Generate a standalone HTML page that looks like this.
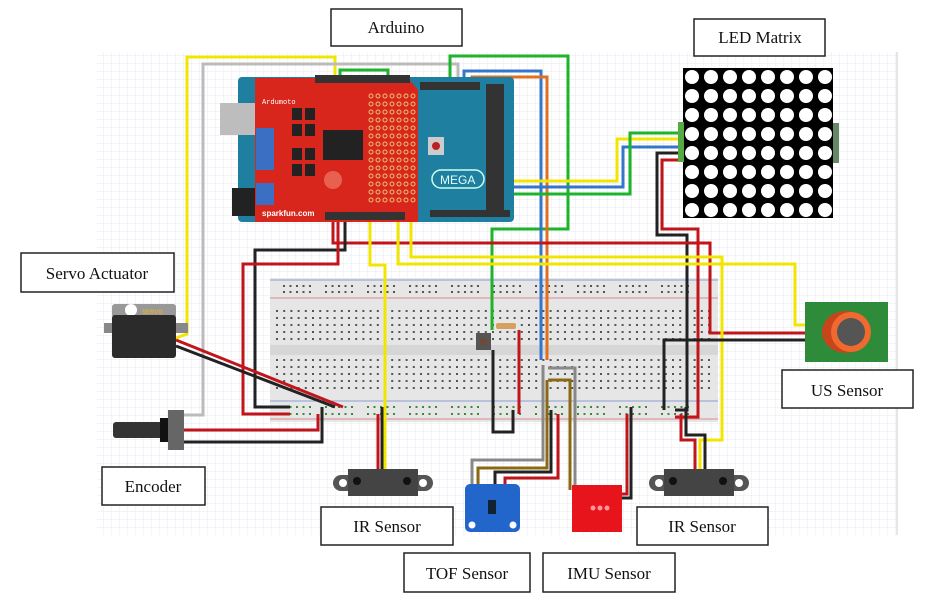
<!DOCTYPE html>
<html><head><meta charset="utf-8"><style>
html,body{margin:0;padding:0;background:#fff;}
svg{display:block;}
.lbl{font-family:"Liberation Serif",serif;font-size:17px;fill:#111;}
</style></head><body>
<svg id="s" width="926" height="602" viewBox="0 0 926 602" xmlns="http://www.w3.org/2000/svg">
<defs>
<pattern id="g" width="8" height="8" patternUnits="userSpaceOnUse"><path d="M8 0V8H0" fill="none" stroke="#dfe3ea" stroke-width="0.7"/></pattern>
</defs>
<rect x="97" y="52" width="800" height="483" fill="url(#g)"/>
<line x1="897" y1="52" x2="897" y2="535" stroke="#ccc"/>

<g>
<rect x="270" y="278" width="448" height="144" fill="#e6e6e6"/>
<rect x="270" y="345" width="448" height="10" fill="#d6d6d6"/>
<line x1="270" y1="280" x2="718" y2="280" stroke="#8a9ed8"/>
<line x1="270" y1="298" x2="718" y2="298" stroke="#d98a8a"/>
<line x1="270" y1="401" x2="718" y2="401" stroke="#8a9ed8"/>
<line x1="270" y1="419" x2="718" y2="419" stroke="#d98a8a"/>
<g id="bbdots"></g>
</g>

<g id="wires" fill="none" stroke-width="3" stroke-linejoin="miter"></g>

<g>
<rect x="238" y="77" width="276" height="145" rx="4" fill="#1f7fa0"/>
<rect x="220" y="103" width="36" height="32" fill="#bdbdbd"/>
<rect x="232" y="188" width="26" height="28" fill="#222"/>
<rect x="486" y="84" width="18" height="130" fill="#333"/>
<rect x="420" y="82" width="60" height="8" fill="#333"/>
<rect x="430" y="210" width="80" height="7" fill="#333"/>
<rect x="428" y="137" width="16" height="18" fill="#ccc"/><circle cx="436" cy="146" r="4" fill="#b22"/>
<rect x="432" y="170" width="52" height="18" rx="9" fill="none" stroke="#cfe" stroke-width="1.5"/>
<text x="440" y="184" font-family="Liberation Sans,sans-serif" font-size="12" fill="#dff">MEGA</text>
<path d="M255 78H408L418 90V222H255Z" fill="#d9261c"/>
<rect x="323" y="130" width="40" height="30" fill="#222"/>
<rect x="292" y="108" width="10" height="12" fill="#222"/><rect x="305" y="108" width="10" height="12" fill="#222"/>
<rect x="292" y="124" width="10" height="12" fill="#222"/><rect x="305" y="124" width="10" height="12" fill="#222"/>
<rect x="292" y="148" width="10" height="12" fill="#222"/><rect x="305" y="148" width="10" height="12" fill="#222"/>
<rect x="292" y="164" width="10" height="12" fill="#222"/><rect x="305" y="164" width="10" height="12" fill="#222"/>
<rect x="256" y="128" width="18" height="42" fill="#3a6fc4"/>
<rect x="256" y="183" width="18" height="22" fill="#3a6fc4"/>
<circle cx="333" cy="180" r="9" fill="#e86050"/>
<rect x="315" y="75" width="95" height="8" fill="#333"/>
<rect x="325" y="212" width="80" height="8" fill="#333"/>
<text x="262" y="216" font-family="Liberation Sans,sans-serif" font-size="8" font-weight="bold" fill="#fff">sparkfun.com</text>
<text x="262" y="104" font-family="Liberation Mono,monospace" font-size="7" fill="#fff">Ardumoto</text>
<g id="proto"></g>
</g>

<g>
<rect x="683" y="68" width="150" height="150" fill="#000"/>
<rect x="678" y="122" width="6" height="40" fill="#5a4" />
<rect x="833" y="123" width="6" height="40" fill="#686"/>
<g id="leds"></g>
</g>

<g>
<rect x="805" y="302" width="83" height="60" fill="#2e8b3a"/>
<ellipse cx="846" cy="332" rx="24" ry="21" fill="#c8451c"/>
<circle cx="851" cy="332" r="20" fill="#f06a30"/><circle cx="851" cy="332" r="14" fill="#555"/>
</g>

<g>
<rect x="104" y="323" width="84" height="10" fill="#888"/>
<rect x="112" y="304" width="64" height="14" rx="3" fill="#999"/>
<circle cx="131" cy="310" r="6" fill="#fff"/>
<text x="142" y="314" font-family="Liberation Sans,sans-serif" font-size="6" font-weight="bold" fill="#d9b040">SERVO</text>
<rect x="112" y="315" width="64" height="43" rx="3" fill="#2b2b2b"/>
</g>

<g>
<rect x="113" y="422" width="50" height="16" rx="3" fill="#333"/>
<rect x="160" y="418" width="8" height="24" fill="#111"/>
<rect x="168" y="410" width="16" height="40" fill="#666"/>
</g>

<g>
<rect x="333" y="475" width="100" height="16" rx="8" fill="#555"/>
<rect x="348" y="469" width="70" height="27" fill="#444"/>
<circle cx="343" cy="483" r="4" fill="#fff"/><circle cx="423" cy="483" r="4" fill="#fff"/>
<circle cx="357" cy="481" r="4" fill="#111"/><circle cx="407" cy="481" r="4" fill="#111"/>
</g>
<g>
<rect x="649" y="475" width="100" height="16" rx="8" fill="#555"/>
<rect x="664" y="469" width="70" height="27" fill="#444"/>
<circle cx="659" cy="483" r="4" fill="#fff"/><circle cx="739" cy="483" r="4" fill="#fff"/>
<circle cx="673" cy="481" r="4" fill="#111"/><circle cx="723" cy="481" r="4" fill="#111"/>
</g>

<g>
<rect x="465" y="484" width="55" height="48" rx="5" fill="#2266cc"/>
<rect x="488" y="500" width="8" height="14" fill="#123"/>
<circle cx="472" cy="525" r="3.5" fill="#fff"/><circle cx="513" cy="525" r="3.5" fill="#fff"/>
</g>
<g>
<rect x="572" y="485" width="50" height="47" fill="#e8141c"/>
<circle cx="593" cy="508" r="2.5" fill="#f99"/><circle cx="600" cy="508" r="2.5" fill="#f99"/><circle cx="607" cy="508" r="2.5" fill="#f99"/>
</g>

<rect x="476" y="333" width="15" height="17" fill="#555"/>
<circle cx="483.5" cy="341.5" r="4" fill="#6b4a3a"/>
<rect x="496" y="323" width="20" height="6" rx="2" fill="#d8a060"/>

<g stroke="#222" stroke-width="1.5" fill="#fff">
<rect x="331" y="9" width="131" height="37"/>
<rect x="694" y="19" width="131" height="37"/>
<rect x="21" y="253" width="153" height="39"/>
<rect x="782" y="370" width="131" height="38"/>
<rect x="102" y="467" width="103" height="38"/>
<rect x="321" y="507" width="132" height="38"/>
<rect x="637" y="507" width="131" height="38"/>
<rect x="404" y="553" width="126" height="39"/>
<rect x="543" y="553" width="132" height="39"/>
</g>
<g class="lbl" text-anchor="middle">
<text x="396" y="33">Arduino</text>
<text x="760" y="43">LED Matrix</text>
<text x="97" y="279">Servo Actuator</text>
<text x="847" y="396">US Sensor</text>
<text x="153" y="492">Encoder</text>
<text x="387" y="532">IR Sensor</text>
<text x="702" y="532">IR Sensor</text>
<text x="467" y="579">TOF Sensor</text>
<text x="609" y="579">IMU Sensor</text>
</g>
</svg>
<script>
const NS='http://www.w3.org/2000/svg';
function mk(p,t,a){const e=document.createElementNS(NS,t);for(const k in a)e.setAttribute(k,a[k]);p.appendChild(e);return e;}
const bb=document.getElementById('bbdots');
const rows=[311,318,325,332,339,360,367,374,381,388];
for(let x=277;x<712;x+=7.2){for(const y of rows){mk(bb,'rect',{x:x-1,y:y-1,width:2,height:2,fill:'#555'});}}
for(let g=0;g<10;g++){for(let i=0;i<5;i++){const x=284+g*42+i*6.5;for(const y of [286,292]){mk(bb,'rect',{x:x-1,y:y-1,width:2,height:2,fill:'#555'});}for(const y of [407,414]){mk(bb,'rect',{x:x-1,y:y-1,width:2,height:2,fill:'#3a8a3a'});}}}
const ld=document.getElementById('leds');
for(let r=0;r<8;r++){for(let c=0;c<8;c++){mk(ld,'circle',{cx:692+c*19,cy:77+r*19,r:7,fill:'#fff'});}}
const pr=document.getElementById('proto');
for(let r=0;r<14;r++){for(let c=0;c<7;c++){mk(pr,'circle',{cx:371+c*7,cy:96+r*8,r:2,fill:'none',stroke:'#e8c070','stroke-width':1});}}
const W=[
['#f2e600','176,338 187,334 187,57 335,57 335,80'],
['#bbb','184,415 203,415 203,64 458,64 458,80'],
['#1db32b','340,80 340,70 388,70 388,80'],
['#1db32b','450,80 450,56 568,56 568,229 492,229 492,330'],
['#3377cc','464,80 464,71 541,71 541,360'],
['#e07020','472,80 472,77 547,77 547,360'],
['#f2e600','498,181 617,181 617,139 680,139'],
['#3377cc','498,187 623,187 623,147 680,147'],
['#1db32b','498,194 630,194 630,133 680,133'],
['#222','680,153 657,153 657,235 687,235 687,410 675,410'],
['#c1151b','680,160 662,160 662,229 698,229 698,417 675,417'],
['#c1151b','333,215 333,243 710,243 710,333 805,333'],
['#f2e600','411,215 411,257 722,257 722,440 700,440 700,470'],
['#f2e600','398,215 398,264 795,264 795,325 805,325'],
['#f2e600','370,215 370,265 385,265 385,470'],
['#222','345,215 345,250 255,250 255,407 290,407'],
['#c1151b','338,215 338,264 243,264 243,414 290,414'],
['#222','805,340 664,340 664,410'],
['#c1151b','176,340 343,407'],
['#222','176,346 335,407'],
['#c1151b','184,430 318,430 318,414'],
['#222','184,442 322,442 322,407'],
['#c1151b','378,414 378,470'],
['#222','382,407 382,470'],
['#222','493,350 493,432 513,432 513,410'],
['#c1151b','519,330 519,414'],
['#888','543,365 543,460 472,460 472,487'],
['#8b6914','547,380 547,468 478,468 478,487'],
['#888','548,368 575,368 575,487'],
['#8b6914','548,380 570,380 570,490'],
['#222','551,410 551,472 495,472 495,487'],
['#c1151b','558,414 558,478 505,478 505,487'],
['#c1151b','627,414 627,494 622,494'],
['#222','631,407 631,498 622,498'],
['#c1151b','681,414 681,440 695,440 695,470'],
['#222','686,407 686,435 705,435 705,470']
];
const wg=document.getElementById('wires');
for(const [c,p] of W){const e=mk(wg,'polyline',{points:p,stroke:c});

}
</script>
</body></html>
